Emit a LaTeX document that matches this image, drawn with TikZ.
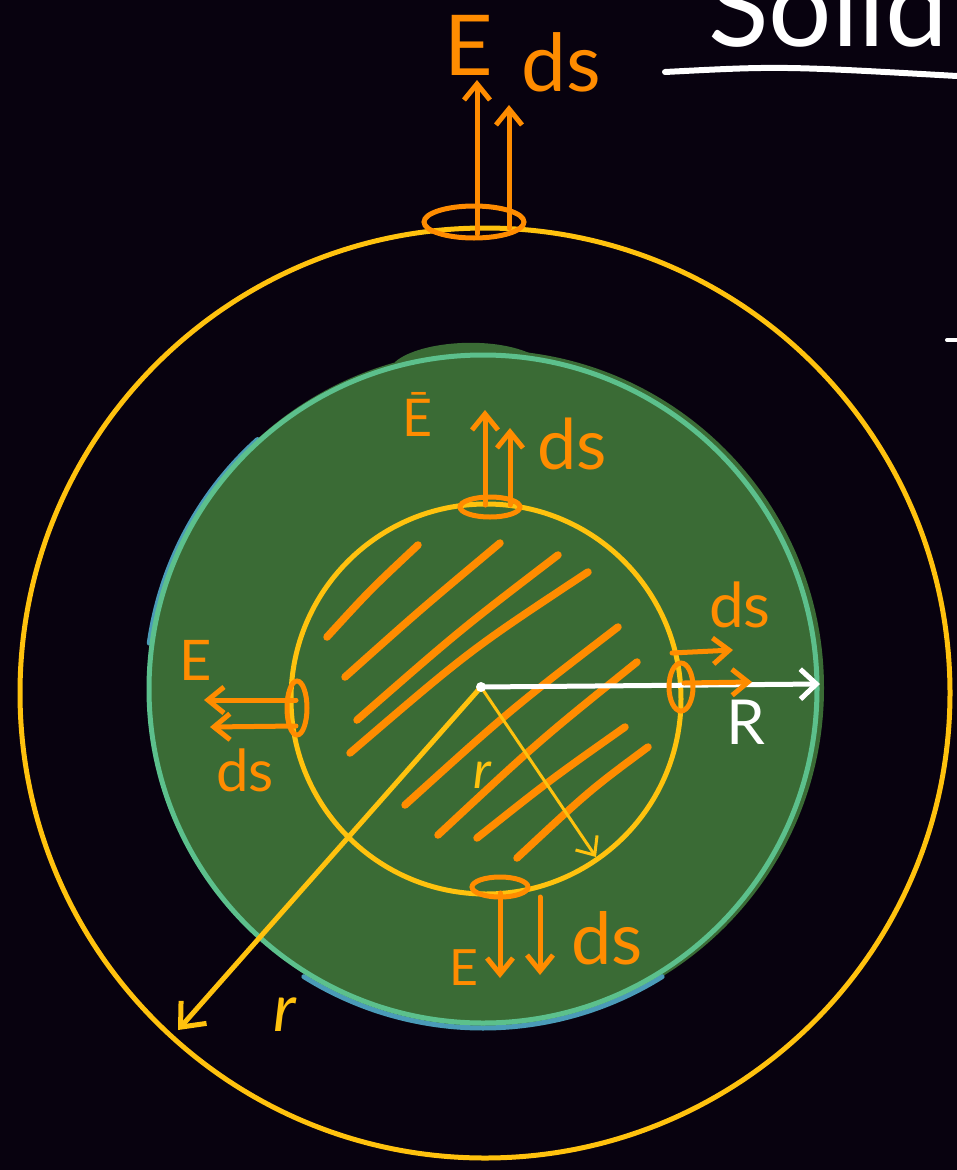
\documentclass[tikz,border=0pt]{standalone}
\usepackage{fontspec}
\setmainfont{Lato}
\usetikzlibrary{arrows.meta}
\definecolor{bg}{HTML}{08020F}
\definecolor{ylw}{HTML}{FFC20E}
\definecolor{org}{HTML}{FF8C00}
\definecolor{grn}{HTML}{3A6B35}
\definecolor{rimb}{HTML}{4A9BB8}
\definecolor{rimg}{HTML}{5CC08C}
\tikzset{
  hatch/.style={org, line width=7.5, line cap=round},
  patch/.style={org, line width=5},
  vec/.style={org, line width=5, line cap=round, -{Straight Barb[length=16,width=26,line width=5]}},
  lab/.style={org, inner sep=0, font=\fontsize{66}{66}\selectfont},
  wlab/.style={white, inner sep=0, font=\fontsize{62}{62}\selectfont},
  ylab/.style={ylw, inner sep=0, font=\itshape\fontsize{66}{66}\selectfont},
}
\begin{document}
\begin{tikzpicture}[x=1pt,y=-1pt]
\fill[bg] (0,0) rectangle (957,1170);
\useasboundingbox (0,0) rectangle (957,1170);
\begin{scope}
\clip (0,0) rectangle (957,1170);
% title fragment
\node[white, anchor=west, inner sep=0, font=\fontsize{112}{112}\selectfont] (title) at (708,6) {Solid};
\draw[white, line width=6, line cap=round] (665,72) .. controls (780,66) .. (957,76);
\draw[white, line width=4, line cap=round] (947,340) -- (957,340);
% green shell
\fill[grn] (486,688) circle[radius=338];
\fill[grn] (395,362) .. controls (420,340) and (500,335) .. (537,357) -- (537,380) -- (395,380) -- cycle;
\draw[rimb, line width=5, line cap=round] (483,690) ++(188:337) arc[start angle=188, end angle=228, radius=337];
\draw[rimb, line width=5, line cap=round] (483,690) ++(58:338) arc[start angle=58, end angle=122, radius=338];
\draw[rimg, line width=5] (483,689) circle[radius=334];
% outer gaussian surface
\draw[ylw, line width=5] (485,693) circle[radius=465];
% inner sphere
\draw[ylw, line width=5] (486,699) circle[radius=195];
% hatching
\draw[hatch] (327,637) .. controls (370,590) .. (418,545);
\draw[hatch] (345,677) .. controls (420,610) .. (500,543);
\draw[hatch] (357,720) .. controls (460,630) .. (558,555);
\draw[hatch] (350,753) .. controls (470,650) .. (588,572);
\draw[hatch] (405,805) .. controls (510,710) .. (618,627);
\draw[hatch] (438,835) .. controls (540,740) .. (637,662);
\draw[hatch] (477,838) .. controls (550,780) .. (625,727);
\draw[hatch] (517,858) .. controls (590,790) .. (648,747);
% radii
\coordinate (O) at (481,687);
\coordinate (Rend) at (820,684);
\coordinate (rout) at (178,1030);
\coordinate (rin) at (596,857);
\draw[white, line width=5, line cap=round, -{Straight Barb[length=16,width=30,line width=5]}] (O) -- (Rend);
\draw[ylw, line width=5, line cap=round, -{Straight Barb[length=20,width=34,line width=5]}] (O) -- (rout);
\draw[ylw, line width=3, line cap=round, -{Straight Barb[length=15,width=26,line width=3]}] (O) -- (rin);
\fill[white] (O) circle[radius=5];
\node[wlab] (Rl) at (746,722) {R};
\node[ylab] (rl1) at (285,1015) {r};
\node[ylab, font=\itshape\fontsize{52}{52}\selectfont] (rl2) at (482,775) {r};
% top patch on outer surface
\draw[patch] (474,222) ellipse[x radius=50, y radius=16];
\coordinate (t1a) at (477,234); \coordinate (t1b) at (477,80);
\coordinate (t2a) at (509,228); \coordinate (t2b) at (509,105);
\draw[vec] (t1a) -- (t1b);
\draw[vec] (t2a) -- (t2b);
\node[lab, font=\fontsize{84}{84}\selectfont] (tE) at (469,45) {E};
\node[lab, font=\fontsize{80}{80}\selectfont] (tds) at (561,62) {ds};
% inner top patch
\draw[patch] (490,507) ellipse[x radius=30, y radius=10];
\coordinate (u1a) at (485,505); \coordinate (u1b) at (485,410);
\coordinate (u2a) at (510,505); \coordinate (u2b) at (510,428);
\draw[vec] (u1a) -- (u1b);
\draw[vec] (u2a) -- (u2b);
\node[lab, font=\fontsize{52}{52}\selectfont] (uE) at (418,414) {Ē};
\node[lab, font=\fontsize{70}{70}\selectfont] (uds) at (572,444) {ds};
% left patch
\draw[patch] (297,708) ellipse[x radius=10, y radius=27];
\coordinate (l1a) at (296,700); \coordinate (l1b) at (204,700);
\coordinate (l2a) at (296,726); \coordinate (l2b) at (210,727);
\draw[vec] (l1a) -- (l1b);
\draw[vec] (l2a) -- (l2b);
\node[lab, font=\fontsize{56}{56}\selectfont] (lE) at (196,660) {E};
\node[lab, font=\fontsize{58}{58}\selectfont] (lds) at (245,770) {ds};
% right patch
\draw[patch] (681,687) ellipse[x radius=12, y radius=24];
\coordinate (r1a) at (672,653); \coordinate (r1b) at (733,650);
\coordinate (r2a) at (684,683); \coordinate (r2b) at (752,682);
\draw[vec] (r1a) -- (r1b);
\draw[vec] (r2a) -- (r2b);
\node[lab, font=\fontsize{62}{62}\selectfont] (rds) at (740,605) {ds};
% bottom patch
\draw[patch] (500,887) ellipse[x radius=28, y radius=10];
\coordinate (b1a) at (500,893); \coordinate (b1b) at (500,978);
\coordinate (b2a) at (540,897); \coordinate (b2b) at (540,975);
\draw[vec] (b1a) -- (b1b);
\draw[vec] (b2a) -- (b2b);
\node[lab, font=\fontsize{50}{50}\selectfont] (bE) at (464,968) {E};
\node[lab, font=\fontsize{72}{72}\selectfont] (bds) at (607,938) {ds};
\end{scope}
\end{tikzpicture}
\end{document}
